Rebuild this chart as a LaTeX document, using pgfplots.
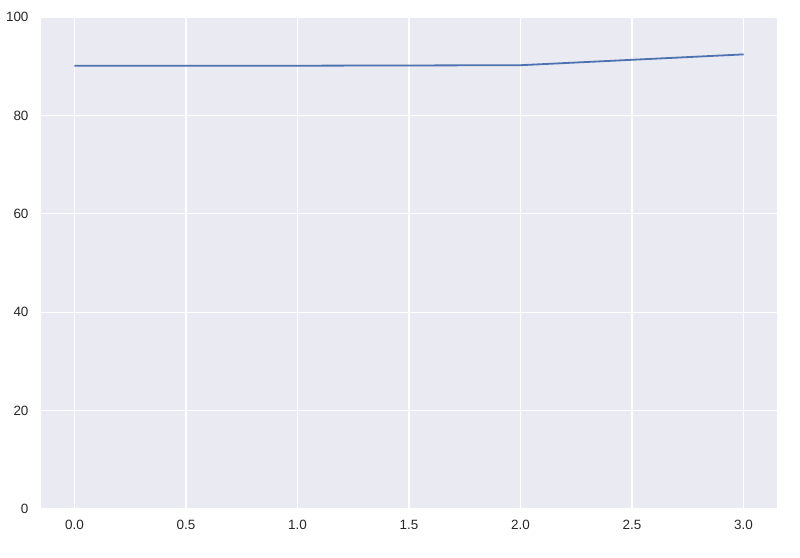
\documentclass[border=0pt]{standalone}
\usepackage{pgfplots}
\pgfplotsset{compat=1.18}
\usetikzlibrary{calc}
\usepackage{fontspec}
\setmainfont{Liberation Sans}
\definecolor{sbbg}{HTML}{EAEAF2}
\definecolor{sbblue}{HTML}{4C72B0}
\definecolor{ticktext}{HTML}{262626}
\begin{document}
\begin{tikzpicture}
\begin{axis}[
  name=ax,
  scale only axis,
  width=736bp, height=492bp,
  xmin=-0.15, xmax=3.15,
  ymin=0, ymax=100,
  xtick={0,0.5,1,1.5,2,2.5,3},
  ytick={0,20,40,60,80,100},
  xticklabels={0.0,0.5,1.0,1.5,2.0,2.5,3.0},
  axis background/.style={fill=sbbg},
  axis line style={draw=none},
  major tick length=0pt,
  grid=major,
  major grid style={white, line width=1.3bp},
  axis on top=false,
  tick label style={font=\fontsize{13.5}{15}\selectfont, text=ticktext},
  /pgf/number format/assume math mode=true,
  xticklabel style={yshift=-8bp},
  yticklabel style={xshift=-9bp},
]
\addplot[sbblue, line width=1.8bp] coordinates {(0,90.1) (1,90.1) (2,90.2) (3,92.4)};
\end{axis}
\pgfresetboundingbox
\path[use as bounding box] ($(ax.south west)+(-41bp,-49bp)$) rectangle ($(ax.north east)+(23bp,17bp)$);
\end{tikzpicture}
\end{document}
